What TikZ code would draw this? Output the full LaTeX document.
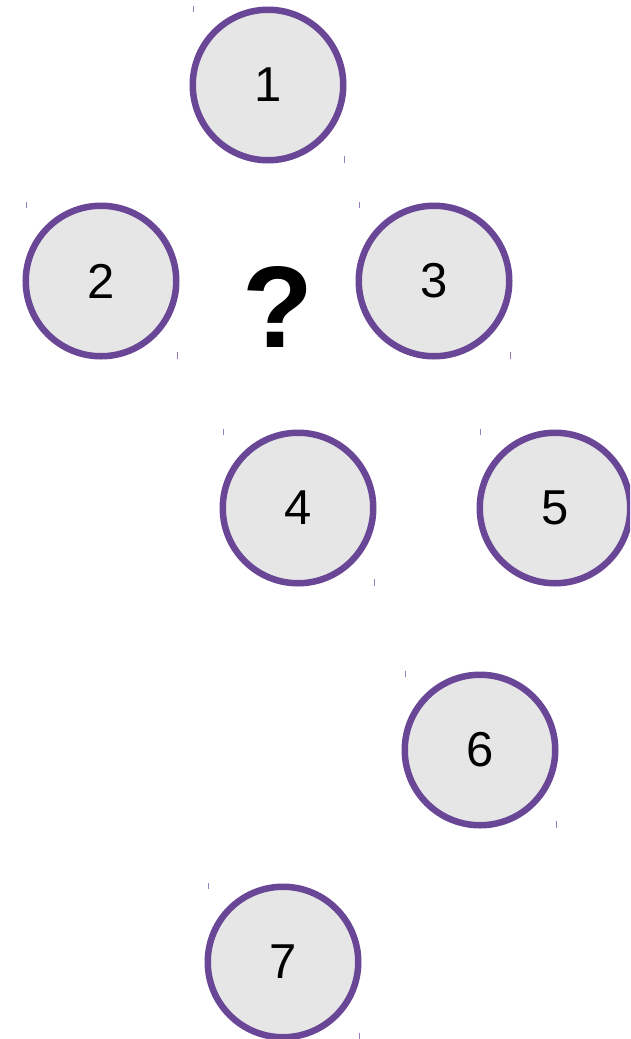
\documentclass[tikz,border=0pt]{standalone}
\usepackage{fontspec}
\setmainfont{Liberation Sans}
\definecolor{ringpurple}{RGB}{106,70,150}
\definecolor{discgray}{RGB}{230,230,230}
\definecolor{tickpurple}{RGB}{150,125,190}
\begin{document}
\begin{tikzpicture}[x=1pt,y=-1pt,
  disc/.style={circle, draw=ringpurple, line width=6.5pt, fill=discgray,
    minimum size=150.5pt, inner sep=0pt, font=\fontsize{49}{49}\selectfont},
  handle/.style={draw=tickpurple, line width=0.9pt}]
\useasboundingbox (0,0) rectangle (630,1039);
\clip (0,0) rectangle (630,1039);

% numbered discs
\node[disc] (n1) at (268,85) {1};
\node[disc] (n2) at (101,281) {2};
\node[disc] (n3) at (434,281) {3};
\node[disc] (n4) at (298,508) {4};
\node[disc] (n5) at (555,508) {5};
\node[disc] (n6) at (480,750) {6};
\node[disc] (n7) at (283,962) {7};

% the unknown
\node[font=\bfseries\fontsize{116}{116}\selectfont, inner sep=0pt] (q) at (278,307) {?};

% small handles at the corners of each disc's frame
\foreach \n in {n1,n2,n3,n4,n5,n6,n7}{
  \draw[handle] ([shift={(-75,-79)}]\n.center) -- ++(0,6);
  \draw[handle] ([shift={(76,71)}]\n.center) -- ++(0,7);
}
\end{tikzpicture}
\end{document}
